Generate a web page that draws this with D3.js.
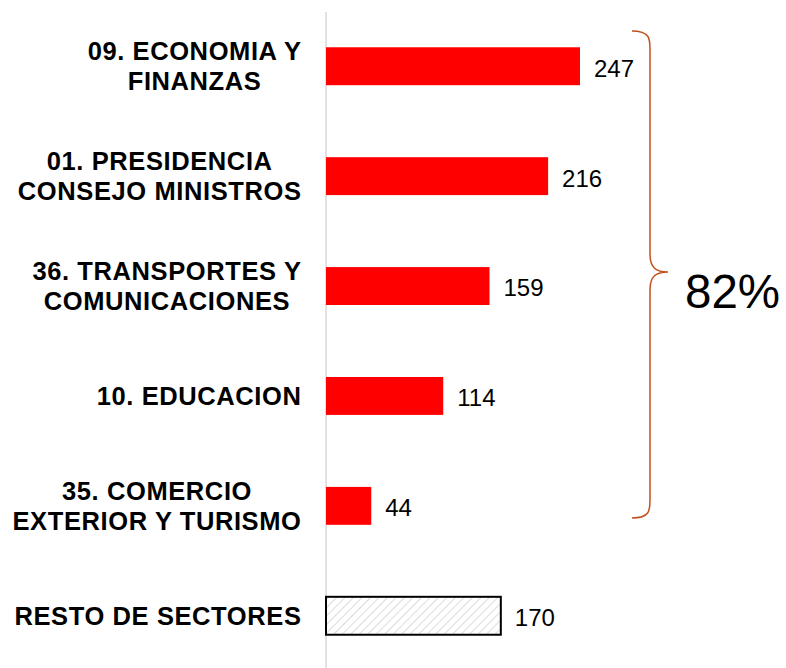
<!DOCTYPE html>
<html>
<head>
<meta charset="utf-8">
<script src="https://cdn.jsdelivr.net/npm/d3@7"></script>
<style>
  body { margin: 0; background: #fff; }
  text { font-family: "Liberation Sans", Arial, sans-serif; }
</style>
</head>
<body>
<script>
// data
var sectors = [
  ["09. ECONOMIA Y", "FINANZAS"],
  ["01. PRESIDENCIA", "CONSEJO MINISTROS"],
  ["36. TRANSPORTES Y", "COMUNICACIONES"],
  ["10. EDUCACION"],
  ["35. COMERCIO", "EXTERIOR Y TURISMO"],
  ["RESTO DE SECTORES"]
];
var amounts = [247, 216, 159, 114, 44, 170];
var shareLabel = "82%";
var topCount = 5;

var width = 786, height = 668;
var x0 = 326, labelRight = 301;

var svg = d3.select("body").append("svg")
    .attr("width", width)
    .attr("height", height);

var defs = svg.append("defs");
var pat = defs.append("pattern")
    .attr("id", "hatch")
    .attr("patternUnits", "userSpaceOnUse")
    .attr("width", 6)
    .attr("height", 6)
    .attr("patternTransform", "rotate(45)");
pat.append("line")
    .attr("x1", 0).attr("y1", 0)
    .attr("x2", 0).attr("y2", 6)
    .style("stroke", "#c4c4c4")
    .style("stroke-width", 1.2);

var x = d3.scaleLinear()
    .domain([0, 247])
    .range([x0, 580]);

var y = d3.scaleBand()
    .domain(d3.range(amounts.length))
    .range([11, 671])
    .paddingInner(0.655)
    .paddingOuter(0.33);

// vertical axis line
svg.append("line")
    .attr("x1", x0).attr("x2", x0)
    .attr("y1", 12).attr("y2", height)
    .style("stroke", "#d9d9d9")
    .style("stroke-width", 1.5);

svg.selectAll(".bar")
    .data(amounts)
    .enter()
    .append("rect")
    .attr("class", "bar")
    .attr("x", x(0))
    .attr("y", (d, i) => y(i))
    .attr("width", d => x(d) - x(0))
    .attr("height", y.bandwidth())
    .style("fill", (d, i) => i < topCount ? "#ff0000" : "url(#hatch)")
    .style("stroke", (d, i) => i < topCount ? "none" : "#000")
    .style("stroke-width", 2);

svg.selectAll(".val")
    .data(amounts)
    .enter()
    .append("text")
    .attr("class", "val")
    .attr("x", d => x(d) + 14)
    .attr("y", (d, i) => y(i) + y.bandwidth() / 2 + 2)
    .attr("dy", "0.35em")
    .style("font-size", "24px")
    .style("fill", "#000")
    .text(d => d);

// category labels, multi-line centered as a block, block right aligned
var lineH = 30;
sectors.forEach(function(lines, i) {
    var cy = y(i) + y.bandwidth() / 2;
    var g = svg.append("g");
    var texts = lines.map(function(l, j) {
        return g.append("text")
            .attr("y", cy + (j - (lines.length - 1) / 2) * lineH)
            .attr("dy", "0.35em")
            .attr("text-anchor", "middle")
            .style("font-size", "25.5px")
            .style("font-weight", "bold")
            .style("letter-spacing", "0.6px")
            .style("fill", "#000")
            .text(l);
    });
    var maxW = d3.max(texts, t => t.node().getComputedTextLength());
    texts.forEach(t => t.attr("x", labelRight - maxW / 2 + 0.5));
});

// brace over the top five sectors
var bTop = 31, bBot = 518, bx = 632, bMid = 272;
var arm = 18, tip = 668;
var brace = "M" + bx + "," + bTop +
    " C" + (bx + arm) + "," + bTop + " " + (bx + arm) + "," + (bTop + 8) + " " + (bx + arm) + "," + (bTop + 18) +
    " L" + (bx + arm) + "," + (bMid - 18) +
    " C" + (bx + arm) + "," + (bMid - 4) + " " + (bx + arm + 6) + "," + bMid + " " + tip + "," + bMid +
    " C" + (bx + arm + 6) + "," + bMid + " " + (bx + arm) + "," + (bMid + 4) + " " + (bx + arm) + "," + (bMid + 18) +
    " L" + (bx + arm) + "," + (bBot - 18) +
    " C" + (bx + arm) + "," + (bBot - 8) + " " + (bx + arm) + "," + bBot + " " + bx + "," + bBot;
svg.append("path")
    .attr("d", brace)
    .style("fill", "none")
    .style("stroke", "#c0501e")
    .style("stroke-width", 1.5);

svg.append("text")
    .attr("x", 685)
    .attr("y", 291)
    .attr("dy", "0.35em")
    .style("font-size", "47.5px")
    .style("fill", "#000")
    .text(shareLabel);
</script>
</body>
</html>
